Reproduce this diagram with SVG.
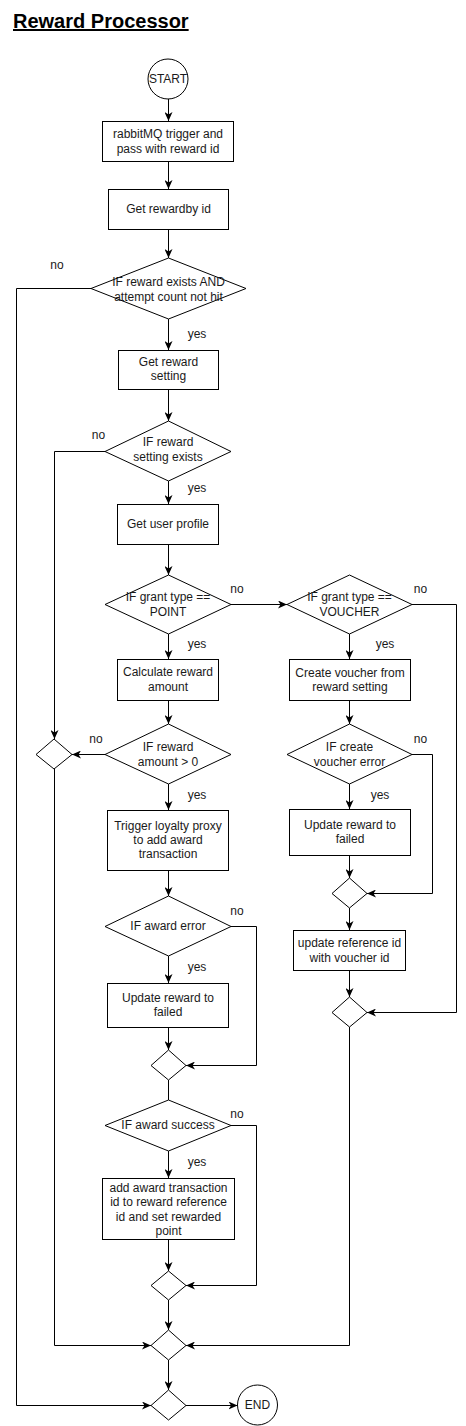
<svg xmlns="http://www.w3.org/2000/svg" width="466" height="1426" viewBox="0 0 466 1426">
<style>
.n{fill:#fff;stroke:#000;stroke-width:1}
.t{font-family:"Liberation Sans",Arial,sans-serif;font-size:12px;fill:#1a1a1a;text-anchor:middle}
.l{font-family:"Liberation Sans",Arial,sans-serif;font-size:12px;fill:#1a1a1a;text-anchor:middle}
.c{fill:none;stroke:#000;stroke-width:1}
.a{marker-end:url(#arr)}
</style>
<defs>
<marker id="arr" viewBox="0 0 9 8" refX="9" refY="4" markerWidth="9" markerHeight="8" orient="auto" markerUnits="userSpaceOnUse">
<path d="M0,0 L9,4 L0,8 L2.5,4 Z" fill="#000"/>
</marker>
</defs>
<rect width="466" height="1426" fill="#fff"/>
<g id="title">
<text x="13" y="28" font-family="'Liberation Sans',Arial,sans-serif" font-size="20" font-weight="bold" text-decoration="underline" fill="#000">Reward Processor</text>
</g>
<g id="connectors">
<path class="c a" d="M168.5,99 V121"/>
<path class="c a" d="M168.5,161 V189"/>
<path class="c a" d="M168.5,229 V258"/>
<path class="c a" d="M168.5,319 V350"/>
<path class="c a" d="M168.5,389 V421"/>
<path class="c a" d="M168.5,481 V504"/>
<path class="c a" d="M168.5,544 V575"/>
<path class="c a" d="M168.5,634 V659"/>
<path class="c a" d="M168.5,700 V724"/>
<path class="c a" d="M168.5,784 V810"/>
<path class="c a" d="M168.5,870 V896"/>
<path class="c a" d="M168.5,956 V983"/>
<path class="c a" d="M168.5,1027 V1050"/>
<path class="c" d="M168.5,1080 V1100"/>
<path class="c a" d="M168.5,1151 V1178"/>
<path class="c a" d="M168.5,1239 V1271"/>
<path class="c a" d="M168.5,1300 V1330"/>
<path class="c a" d="M168.5,1360 V1390"/>
<path class="c a" d="M186,1405.5 H237.5"/>
<path class="c a" d="M91,288.5 H16.5 V1405.5 H151"/>
<path class="c a" d="M105,451.5 H54.5 V739"/>
<path class="c a" d="M105,754.5 H72"/>
<path class="c a" d="M54.5,769 V1345.5 H151"/>
<path class="c a" d="M231,604.5 H287"/>
<path class="c a" d="M412,604.5 H456.5 V1012.5 H367"/>
<path class="c a" d="M349.5,634 V659"/>
<path class="c a" d="M349.5,700 V724"/>
<path class="c a" d="M349.5,784 V809"/>
<path class="c a" d="M412,754.5 H432.5 V893.5 H367"/>
<path class="c a" d="M349.5,855 V878"/>
<path class="c a" d="M349.5,908 V930"/>
<path class="c a" d="M349.5,970 V997"/>
<path class="c a" d="M349.5,1027 V1345.5 H186"/>
<path class="c a" d="M231,926.5 H256.5 V1065.5 H186"/>
<path class="c a" d="M231,1125.5 H256.5 V1285.5 H186"/>
</g>
<g id="start"><circle class="n" cx="168" cy="79" r="20"/><text class="t" x="168" y="83">START</text></g>
<g id="trigger"><rect class="n" x="102.5" y="121.5" width="131" height="40"/><text class="t" x="168" y="138">rabbitMQ trigger and</text><text class="t" x="168" y="153">pass with reward id</text></g>
<g id="getReward"><rect class="n" x="108.5" y="189.5" width="120" height="40"/><text class="t" x="168.5" y="213">Get rewardby id</text></g>
<g id="ifRewardExists"><polygon class="n" points="168.5,258 246,288.5 168.5,319 91,288.5"/><text class="t" x="168.5" y="286">IF reward exists AND</text><text class="t" x="168.5" y="301">attempt count not hit</text></g>
<g id="getSetting"><rect class="n" x="118.5" y="350.5" width="100" height="39"/><text class="t" x="168.5" y="366">Get reward</text><text class="t" x="168.5" y="380">setting</text></g>
<g id="ifSettingExists"><polygon class="n" points="168.5,421 231,451.5 168.5,481 105,451.5"/><text class="t" x="168" y="446">IF reward</text><text class="t" x="168" y="461">setting exists</text></g>
<g id="getProfile"><rect class="n" x="117.5" y="504.5" width="101" height="40"/><text class="t" x="168" y="528">Get user profile</text></g>
<g id="ifPoint"><polygon class="n" points="168.5,575 231,604.5 168.5,634 105,604.5"/><text class="t" x="168" y="601">IF grant type ==</text><text class="t" x="168" y="616">POINT</text></g>
<g id="ifVoucher"><polygon class="n" points="349.5,575 412,604.5 349.5,634 287,604.5"/><text class="t" x="349.5" y="601">IF grant type ==</text><text class="t" x="349.5" y="616">VOUCHER</text></g>
<g id="calcAmount"><rect class="n" x="117.5" y="659.5" width="101" height="41"/><text class="t" x="168" y="676">Calculate reward</text><text class="t" x="168" y="691">amount</text></g>
<g id="createVoucher"><rect class="n" x="289.5" y="659.5" width="121" height="41"/><text class="t" x="350" y="677">Create voucher from</text><text class="t" x="350" y="691">reward setting</text></g>
<g id="mergeLeft"><polygon class="n" points="54,739 72,754.5 54,769 36,754.5"/></g>
<g id="ifAmount"><polygon class="n" points="168.5,724 231,754.5 168.5,784 105,754.5"/><text class="t" x="168" y="751">IF reward</text><text class="t" x="168" y="766">amount &gt; 0</text></g>
<g id="ifVoucherError"><polygon class="n" points="349.5,724 412,754.5 349.5,784 287,754.5"/><text class="t" x="349.5" y="751">IF create</text><text class="t" x="349.5" y="766">voucher error</text></g>
<g id="triggerLoyalty"><rect class="n" x="107.5" y="810.5" width="121" height="60"/><text class="t" x="168" y="830">Trigger loyalty proxy</text><text class="t" x="168" y="844">to add award</text><text class="t" x="168" y="858">transaction</text></g>
<g id="updateFailedV"><rect class="n" x="289.5" y="809.5" width="121" height="46"/><text class="t" x="350" y="829">Update reward to</text><text class="t" x="350" y="843">failed</text></g>
<g id="mergeV1"><polygon class="n" points="349.5,878 367,893.5 349.5,908 332,893.5"/></g>
<g id="ifAwardError"><polygon class="n" points="168.5,896 231,926.5 168.5,956 105,926.5"/><text class="t" x="168" y="930">IF award error</text></g>
<g id="updateRef"><rect class="n" x="293.5" y="930.5" width="112" height="40"/><text class="t" x="349.5" y="947">update reference id</text><text class="t" x="349.5" y="962">with voucher id</text></g>
<g id="updateFailedP"><rect class="n" x="107.5" y="983.5" width="121" height="44"/><text class="t" x="168" y="1002">Update reward to</text><text class="t" x="168" y="1016">failed</text></g>
<g id="mergeV2"><polygon class="n" points="349.5,997 367,1012.5 349.5,1027 332,1012.5"/></g>
<g id="mergeP1"><polygon class="n" points="168.5,1050 186,1065.5 168.5,1080 151,1065.5"/></g>
<g id="ifAwardSuccess"><polygon class="n" points="168.5,1100 231,1125.5 168.5,1151 105,1125.5"/><text class="t" x="168" y="1129">IF award success</text></g>
<g id="addAward"><rect class="n" x="102.5" y="1178.5" width="132" height="61"/><text class="t" x="168.5" y="1192">add award transaction</text><text class="t" x="168.5" y="1206">id to reward reference</text><text class="t" x="168.5" y="1221">id and set rewarded</text><text class="t" x="168.5" y="1235">point</text></g>
<g id="mergeP2"><polygon class="n" points="168.5,1271 186,1285.5 168.5,1300 151,1285.5"/></g>
<g id="mergeAll"><polygon class="n" points="168.5,1330 186,1345.5 168.5,1360 151,1345.5"/></g>
<g id="mergeEnd"><polygon class="n" points="168.5,1390 186,1405.5 168.5,1420 151,1405.5"/></g>
<g id="end"><circle class="n" cx="257.5" cy="1405" r="20"/><text class="t" x="257.5" y="1409">END</text></g>
<g id="labels">
<text class="l" x="57" y="269">no</text>
<text class="l" x="197" y="338">yes</text>
<text class="l" x="98.5" y="439">no</text>
<text class="l" x="197" y="492">yes</text>
<text class="l" x="237" y="593">no</text>
<text class="l" x="420.5" y="593">no</text>
<text class="l" x="197" y="648">yes</text>
<text class="l" x="385" y="648">yes</text>
<text class="l" x="96" y="743">no</text>
<text class="l" x="420.5" y="743">no</text>
<text class="l" x="197" y="799">yes</text>
<text class="l" x="380" y="799">yes</text>
<text class="l" x="237" y="915">no</text>
<text class="l" x="197" y="971">yes</text>
<text class="l" x="237" y="1118">no</text>
<text class="l" x="197" y="1166">yes</text>
</g>
</svg>
